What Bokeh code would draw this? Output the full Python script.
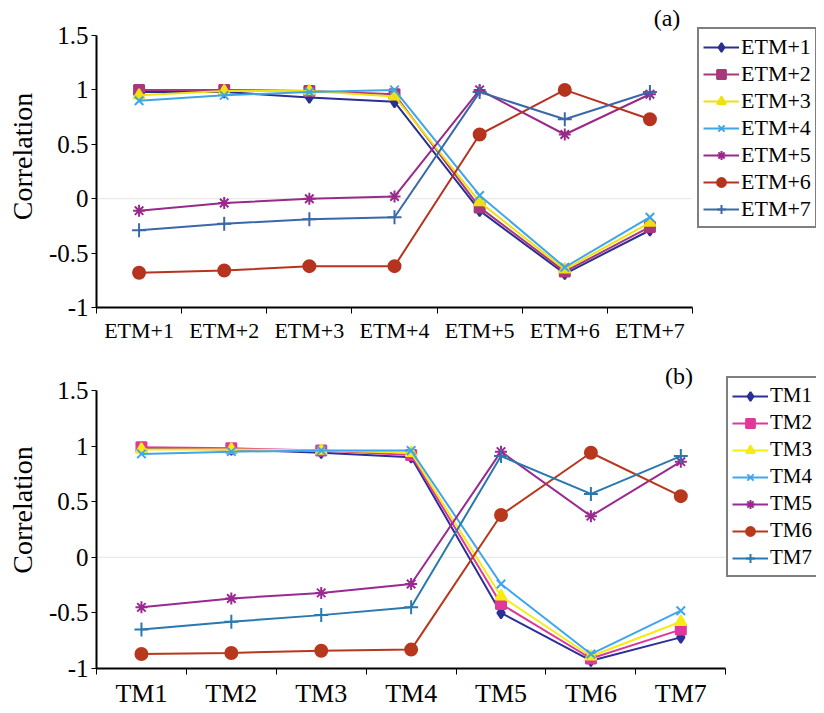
from bokeh.plotting import figure
from bokeh.models import Legend, LegendItem, FixedTicker, Label
from bokeh.layouts import column
from bokeh.embed import file_html
from bokeh.resources import INLINE

# ---------------- data ----------------
a_categories = ["ETM+1", "ETM+2", "ETM+3", "ETM+4", "ETM+5", "ETM+6", "ETM+7"]
a_names = ["ETM+1", "ETM+2", "ETM+3", "ETM+4", "ETM+5", "ETM+6", "ETM+7"]
a_etm1 = [0.98, 0.98, 0.93, 0.89, -0.11, -0.69, -0.29]
a_etm2 = [1.00, 1.00, 0.99, 0.96, -0.08, -0.67, -0.26]
a_etm3 = [0.95, 0.99, 0.99, 0.94, -0.03, -0.65, -0.22]
a_etm4 = [0.90, 0.95, 0.98, 1.00, 0.03, -0.63, -0.17]
a_etm5 = [-0.11, -0.04, 0.00, 0.02, 1.00, 0.59, 0.96]
a_etm6 = [-0.68, -0.66, -0.62, -0.62, 0.59, 1.00, 0.73]
a_etm7 = [-0.29, -0.23, -0.19, -0.17, 0.98, 0.73, 0.98]

b_categories = ["TM1", "TM2", "TM3", "TM4", "TM5", "TM6", "TM7"]
b_names = ["TM1", "TM2", "TM3", "TM4", "TM5", "TM6", "TM7"]
b_tm1 = [0.98, 0.97, 0.94, 0.90, -0.50, -0.93, -0.72]
b_tm2 = [0.99, 0.98, 0.96, 0.92, -0.42, -0.91, -0.65]
b_tm3 = [0.97, 0.97, 0.96, 0.94, -0.35, -0.89, -0.58]
b_tm4 = [0.93, 0.95, 0.96, 0.96, -0.24, -0.87, -0.48]
b_tm5 = [-0.45, -0.37, -0.32, -0.24, 0.95, 0.37, 0.86]
b_tm6 = [-0.87, -0.86, -0.84, -0.83, 0.38, 0.94, 0.55]
b_tm7 = [-0.65, -0.58, -0.52, -0.45, 0.91, 0.57, 0.91]

y_ticks = [-1, -0.5, 0, 0.5, 1, 1.5]
y_tick_labels = ["-1", "-0.5", "0", "0.5", "1", "1.5"]

markers = ["diamond", "square", "triangle", "x", "asterisk", "circle", "cross"]
marker_sizes = [11, 10, 11, 12, 12, 12, 14]
a_colors = ["#2b2f8f", "#a8387e", "#f0e010", "#3ea6e6", "#9a2a8a", "#b6331f", "#3a68a8"]
b_colors = ["#2b2f9a", "#e0389a", "#f5ec10", "#3ea6f0", "#9a2a90", "#b8381e", "#2a78b0"]

FONT = "Liberation Serif"
WIDTH = 816


def make_panel(categories, names, series, colors, tag, height,
               border_left, border_top, axis_size, axis_px, ytop_gap_px,
               xlabel_size, legend_size, legend_loc, tag_x, tag_off):
    n = len(categories)
    ymin, ymax = y_ticks[0], y_ticks[-1]
    xs = [i + 0.5 for i in range(n)]
    frame_w = WIDTH - border_left
    frame_h = height - border_top - axis_size
    x_end = n * frame_w / axis_px
    y_end = ymax + ytop_gap_px * (ymax - ymin) / (frame_h - ytop_gap_px)

    p = figure(width=WIDTH, height=height, x_range=(0, x_end), y_range=(ymin, y_end),
               output_backend="svg", toolbar_location=None,
               min_border_left=border_left, min_border_right=0,
               min_border_top=border_top, min_border_bottom=axis_size)
    p.outline_line_color = None
    p.grid.visible = False
    p.background_fill_color = "white"

    # x axis: labels at centers, ticks at category boundaries
    p.xaxis.bounds = (0, n)
    p.xaxis.ticker = FixedTicker(ticks=xs, minor_ticks=list(range(n + 1)))
    p.xaxis.major_label_overrides = {x: c for x, c in zip(xs, categories)}
    p.xaxis.major_tick_line_color = None
    p.xaxis.major_tick_out = 0
    p.xaxis.minor_tick_in = 0
    p.xaxis.minor_tick_out = 6
    p.xaxis.minor_tick_line_color = "black"
    p.xaxis.minor_tick_line_width = 1
    p.xaxis.axis_line_width = 2
    p.xaxis.axis_line_color = "black"
    p.xaxis.major_label_text_font = FONT
    p.xaxis.major_label_text_font_size = xlabel_size
    p.xaxis.major_label_text_color = "black"
    p.xaxis.major_label_standoff = 4

    # y axis
    p.yaxis.bounds = (ymin, ymax)
    p.yaxis.ticker = FixedTicker(ticks=y_ticks)
    p.yaxis.major_label_overrides = {t: l for t, l in zip(y_ticks, y_tick_labels)}
    p.yaxis.minor_tick_line_color = None
    p.yaxis.major_tick_in = 0
    p.yaxis.major_tick_out = 5
    p.yaxis.major_tick_line_color = "black"
    p.yaxis.axis_line_width = 2
    p.yaxis.axis_line_color = "black"
    p.yaxis.major_label_text_font = FONT
    p.yaxis.major_label_text_font_size = "25px"
    p.yaxis.major_label_text_color = "black"
    p.yaxis.major_label_standoff = 3
    p.yaxis.axis_label = "Correlation"
    p.yaxis.axis_label_text_font = FONT
    p.yaxis.axis_label_text_font_size = "28px"
    p.yaxis.axis_label_text_font_style = "normal"
    p.yaxis.axis_label_text_color = "black"
    p.yaxis.axis_label_standoff = 8

    # faint zero reference line across the categories
    p.line([0, n], [0, 0], line_color="#e4e4e4", line_width=1)

    items = []
    for name, vals, col, mk, ms in zip(names, series, colors, markers, marker_sizes):
        lr = p.line(xs, vals, line_color=col, line_width=2)
        sr = p.scatter(xs, vals, marker=mk, size=ms, fill_color=col,
                       line_color=col, line_width=2)
        items.append(LegendItem(label=name, renderers=[lr, sr]))

    legend = Legend(items=items, location=legend_loc)
    legend.border_line_color = "black"
    legend.border_line_width = 2
    legend.background_fill_color = "white"
    legend.background_fill_alpha = 1
    legend.label_text_font = FONT
    legend.label_text_font_size = legend_size
    legend.label_text_color = "black"
    legend.glyph_width = 36
    legend.glyph_height = 22
    legend.label_height = 27
    legend.label_standoff = 2
    legend.spacing = 0
    legend.padding = 4
    legend.margin = 0
    p.add_layout(legend, "center")

    p.add_layout(Label(x=tag_x, y=ymax, text=tag, text_font=FONT,
                       text_font_size="24px", text_align="center",
                       text_baseline="bottom", y_offset=tag_off, text_color="black"))
    return p


pa = make_panel(a_categories, a_names,
                [a_etm1, a_etm2, a_etm3, a_etm4, a_etm5, a_etm6, a_etm7],
                a_colors, "(a)", 346, 96, 5, 39, 596, 30,
                "22px", "22px", (601, 79), 6.70, 5)
pb = make_panel(b_categories, b_names,
                [b_tm1, b_tm2, b_tm3, b_tm4, b_tm5, b_tm6, b_tm7],
                b_colors, "(b)", 365, 94, 5, 43, 631, 39,
                "26px", "21px", (630, 91), 6.48, 2)

layout = column(pa, pb, spacing=0)
open("out.html", "w").write(file_html(layout, INLINE))
